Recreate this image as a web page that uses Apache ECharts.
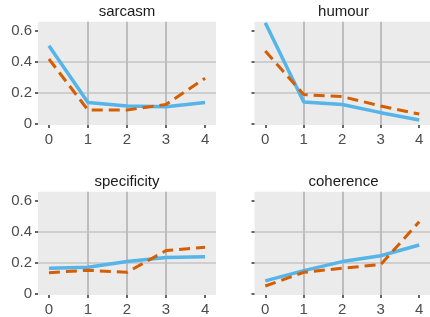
<!DOCTYPE html>
<html>
<head>
<meta charset="utf-8">
<script src="https://cdn.jsdelivr.net/npm/echarts@6/dist/echarts.min.js"></script>
<style>
  html, body { margin: 0; padding: 0; background: #fff; }
  #main { width: 430px; height: 317px; }
</style>
</head>
<body>
<div id="main"></div>
<script>
// data
var steps = [0, 1, 2, 3, 4];
var xTicks = [0, 1, 2, 3, 4];
var yTicks = [0, 0.2, 0.4, 0.6];
var panels = ['sarcasm', 'humour', 'specificity', 'coherence'];

var sarcasmBlue = [0.504, 0.139, 0.116, 0.111, 0.139];
var sarcasmOrange = [0.418, 0.090, 0.090, 0.126, 0.294];
var humourBlue = [0.651, 0.141, 0.126, 0.073, 0.026];
var humourOrange = [0.469, 0.189, 0.176, 0.116, 0.064];
var specificityBlue = [0.165, 0.171, 0.208, 0.234, 0.240];
var specificityOrange = [0.137, 0.152, 0.139, 0.279, 0.300];
var coherenceBlue = [0.084, 0.150, 0.208, 0.246, 0.315];
var coherenceOrange = [0.051, 0.139, 0.165, 0.189, 0.465];

var blueSets = [sarcasmBlue, humourBlue, specificityBlue, coherenceBlue];
var orangeSets = [sarcasmOrange, humourOrange, specificityOrange, coherenceOrange];

var font = '"Liberation Sans", Arial, sans-serif';
var lefts = [38, 254.5];
var tops = [21.7, 191.7];
var W = 178, H = 103.4;

function pairs(arr) {
  return steps.map(function (x, i) { return [x, arr[i]]; });
}

var grids = [], xAxes = [], yAxes = [], series = [], titles = [];

panels.forEach(function (name, i) {
  var col = i % 2, row = Math.floor(i / 2);
  grids.push({
    left: lefts[col], top: tops[row], width: W, height: H,
    show: true, backgroundColor: '#ebebeb', borderWidth: 0
  });
  titles.push({
    text: name,
    left: lefts[col] + W / 2,
    top: tops[row] - 17,
    textAlign: 'center',
    padding: 0,
    textStyle: { fontFamily: font, fontSize: 15, fontWeight: 'normal', color: '#1a1a1a' }
  });
  xAxes.push({
    type: 'value', gridIndex: i, min: -0.28, max: 4.28,
    axisLine: { show: false, onZero: false },
    axisTick: { show: true, length: 3, customValues: xTicks, lineStyle: { color: '#333', width: 1.5 } },
    axisLabel: { customValues: xTicks, margin: 7, fontSize: 15, color: '#4d4d4d', fontFamily: font },
    splitLine: { show: true, showMinLine: false, showMaxLine: false, lineStyle: { color: '#bdbdbd', width: 2 } }
  });
  yAxes.push({
    type: 'value', gridIndex: i, min: -0.007, max: 0.658,
    axisLine: { show: false, onZero: false },
    axisTick: { show: true, length: 3, customValues: yTicks, lineStyle: { color: '#333', width: 1.5 } },
    axisLabel: { show: col === 0, customValues: yTicks, margin: 6, fontSize: 15, color: '#4d4d4d', fontFamily: font },
    splitLine: { show: true, showMinLine: false, showMaxLine: false, lineStyle: { color: '#c4c4c4', width: 1.5 } }
  });
  series.push({
    type: 'line', xAxisIndex: i, yAxisIndex: i,
    data: pairs(blueSets[i]), symbol: 'none',
    lineStyle: { color: '#56B4E9', width: 3.5, cap: 'butt' }, z: 2
  });
  series.push({
    type: 'line', xAxisIndex: i, yAxisIndex: i,
    data: pairs(orangeSets[i]), symbol: 'none',
    lineStyle: { color: '#D55E00', width: 3, type: [11, 6], cap: 'butt' }, z: 3
  });
});

var myChart = echarts.init(document.getElementById('main'), null, { renderer: 'canvas' });
myChart.setOption({
  animation: false,
  backgroundColor: '#fff',
  title: titles,
  grid: grids,
  xAxis: xAxes,
  yAxis: yAxes,
  series: series
});
</script>
</body>
</html>
